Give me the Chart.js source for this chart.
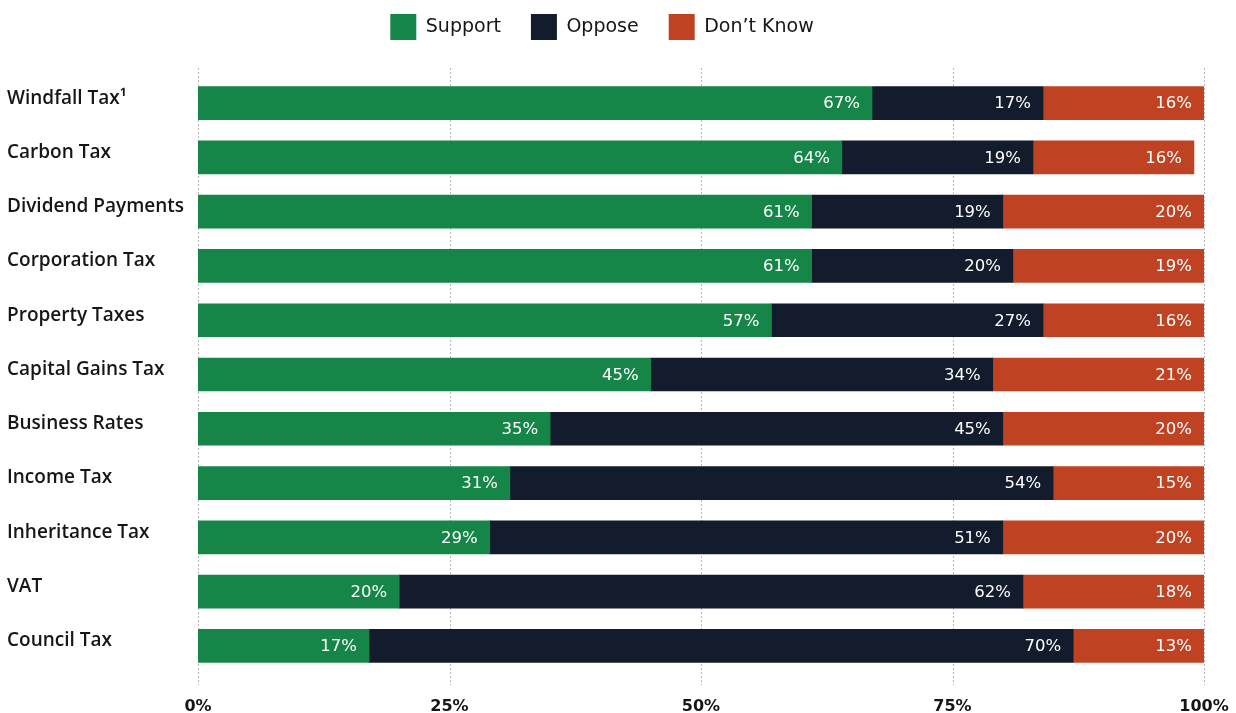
<!DOCTYPE html>
<html>
<head>
<meta charset="utf-8">
<script src="https://cdn.jsdelivr.net/npm/chart.js@4.4.1/dist/chart.umd.min.js"></script>
<style>
  html, body { margin: 0; padding: 0; background: #fff; }
  #wrap { width: 1236px; height: 713px; position: relative; }
</style>
</head>
<body>
<div id="wrap"><canvas id="chart"></canvas></div>
<script>
// Survey answers per tax, in percent
const taxes = ['Windfall Tax\u00B9', 'Carbon Tax', 'Dividend Payments', 'Corporation Tax', 'Property Taxes',
  'Capital Gains Tax', 'Business Rates', 'Income Tax', 'Inheritance Tax', 'VAT', 'Council Tax'];
const support = [67, 64, 61, 61, 57, 45, 35, 31, 29, 20, 17];
const oppose = [17, 19, 19, 20, 27, 34, 45, 54, 51, 62, 70];
const dontKnow = [16, 16, 20, 19, 16, 21, 20, 15, 20, 18, 13];
const tickValues = [0, 25, 50, 75, 100];

const GREEN = '#168548';
const NAVY = '#121c2d';
const RUST = '#bf4322';
const INK = '#161616';

// dotted vertical guides behind the bars, a bit taller than the plot area
const guideLines = {
  id: 'guideLines',
  beforeDatasetsDraw(chart) {
    const { ctx, chartArea, scales } = chart;
    ctx.save();
    ctx.strokeStyle = '#b9b9b9';
    ctx.lineWidth = 1;
    ctx.setLineDash([2, 2]);
    tickValues.forEach(v => {
      const x = Math.round(scales.x.getPixelForValue(v)) + 0.5;
      ctx.beginPath();
      ctx.moveTo(x, chartArea.top - 8);
      ctx.lineTo(x, chartArea.bottom + 12);
      ctx.stroke();
    });
    ctx.restore();
  }
};

// category names on the left, slightly above each bar's centre
const rowLabels = {
  id: 'rowLabels',
  afterDraw(chart) {
    const { ctx, scales } = chart;
    ctx.save();
    ctx.font = '600 19px "Open Sans"';
    ctx.fillStyle = INK;
    ctx.textAlign = 'left';
    ctx.textBaseline = 'middle';
    taxes.forEach((name, i) => {
      ctx.fillText(name, 7, scales.y.getPixelForValue(i) - 5);
    });
    ctx.restore();
  }
};

// value labels inside the right end of every segment
const valueLabels = {
  id: 'valueLabels',
  afterDatasetsDraw(chart) {
    const { ctx } = chart;
    ctx.save();
    ctx.font = '16.5px "DejaVu Sans"';
    ctx.fillStyle = '#ffffff';
    ctx.textAlign = 'right';
    ctx.textBaseline = 'middle';
    chart.data.datasets.forEach((ds, di) => {
      chart.getDatasetMeta(di).data.forEach((bar, i) => {
        ctx.fillText(ds.data[i] + '%', bar.x - 12, bar.y + 1);
      });
    });
    ctx.restore();
  }
};

// leave room between the legend and the first bar
const legendSpace = {
  id: 'legendSpace',
  afterInit(chart) {
    const legend = chart.legend;
    const fit = legend.fit;
    legend.fit = function () {
      fit.call(this);
      this.height = 92;
    };
  }
};

new Chart(document.getElementById('chart'), {
  type: 'bar',
  data: {
    labels: taxes,
    datasets: [
      { label: 'Support', data: support, backgroundColor: GREEN, borderWidth: 0 },
      { label: 'Oppose', data: oppose, backgroundColor: NAVY, borderWidth: 0 },
      { label: 'Don\u2019t Know', data: dontKnow, backgroundColor: RUST, borderWidth: 0 }
    ]
  },
  options: {
    indexAxis: 'y',
    responsive: true,
    maintainAspectRatio: false,
    animation: false,
    layout: { padding: { top: -16, left: 0, right: 32, bottom: 0 } },
    datasets: { bar: { barThickness: 33 } },
    scales: {
      x: {
        stacked: true,
        min: 0,
        max: 100,
        grid: { display: false, drawTicks: false },
        border: { display: false },
        afterBuildTicks(scale) {
          scale.ticks = tickValues.map(v => ({ value: v }));
        },
        afterFit(scale) {
          scale.height = 40;
          scale.paddingLeft = 0;
          scale.paddingRight = 0;
        },
        ticks: {
          padding: 24,
          color: INK,
          font: { family: '"DejaVu Sans"', size: 16, weight: 'bold' },
          callback: v => v + '%'
        }
      },
      y: {
        stacked: true,
        grid: { display: false },
        border: { display: false },
        ticks: { display: false },
        afterFit(scale) {
          scale.width = 198;
        }
      }
    },
    plugins: {
      legend: {
        position: 'top',
        align: 'center',
        labels: {
          boxWidth: 26,
          boxHeight: 26,
          padding: 30,
          color: INK,
          font: { family: '"DejaVu Sans"', size: 19 }
        }
      },
      tooltip: { enabled: false }
    }
  },
  plugins: [guideLines, rowLabels, valueLabels, legendSpace]
});
</script>
</body>
</html>
